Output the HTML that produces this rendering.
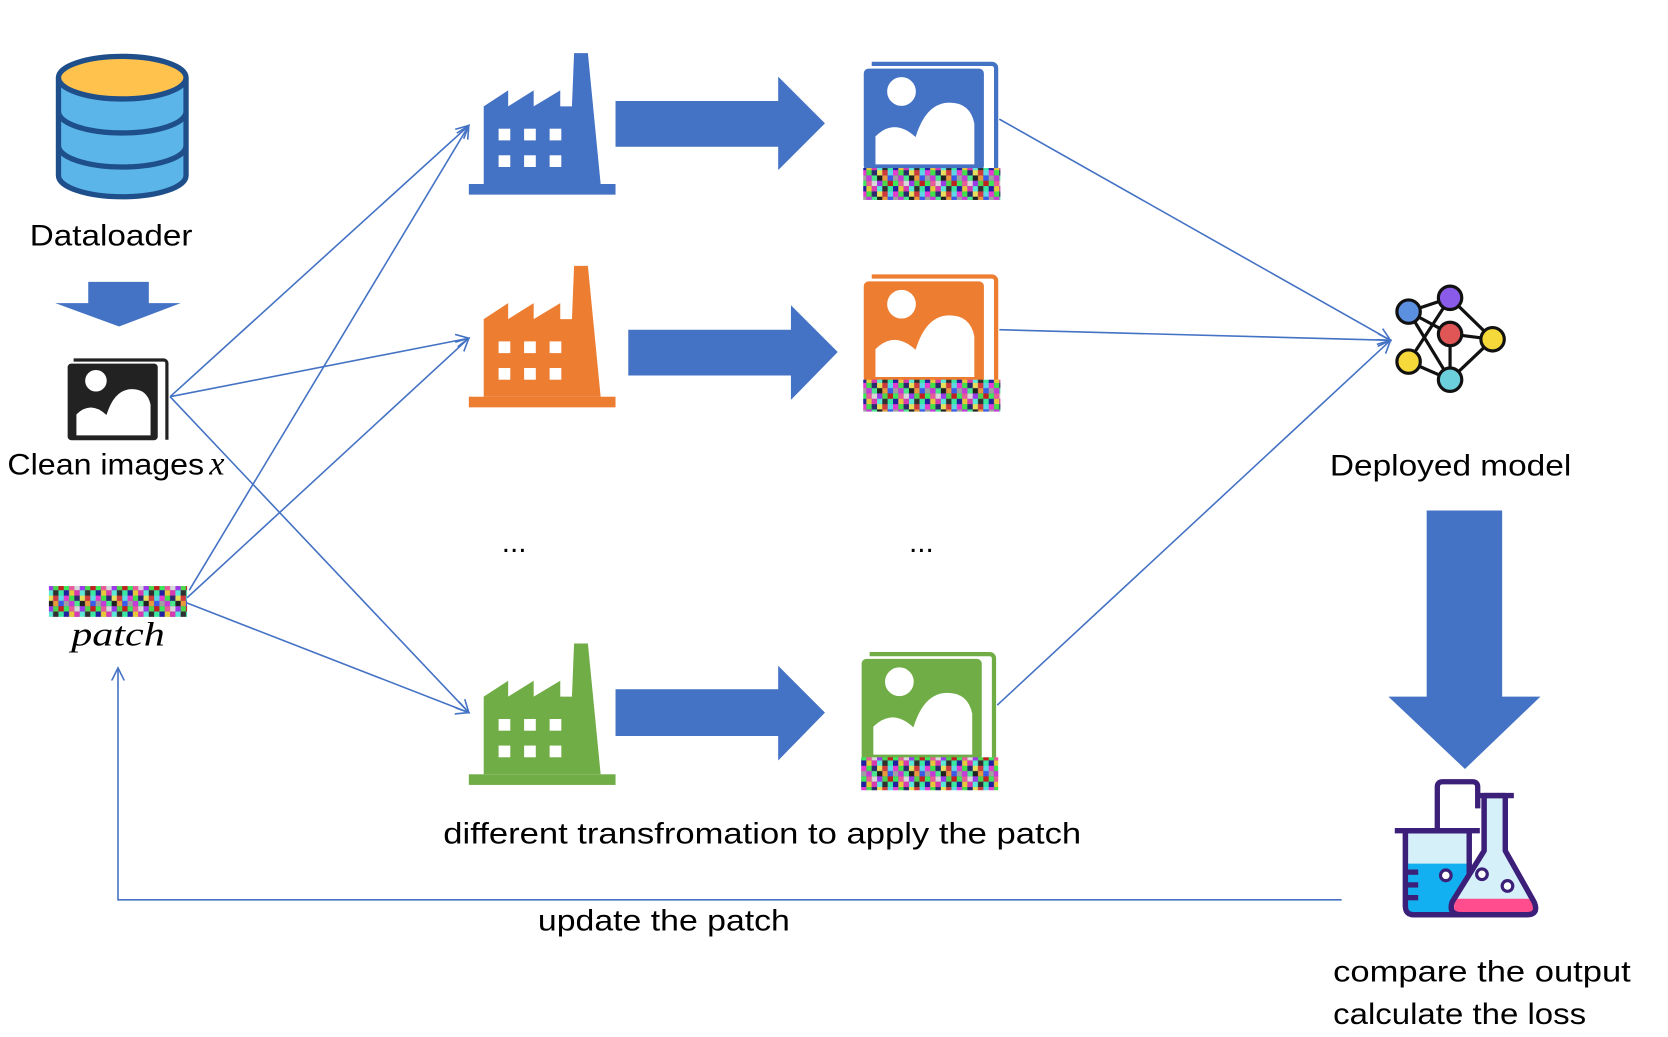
<!DOCTYPE html>
<html><head><meta charset="utf-8"><style>html,body{margin:0;padding:0;background:#fff}svg{display:block}</style></head><body>
<svg width="1668" height="1037" viewBox="0 0 1569 975" preserveAspectRatio="none" xmlns="http://www.w3.org/2000/svg">
<defs>
<pattern id="mz" width="30" height="20" patternUnits="userSpaceOnUse">
<rect width="30" height="20" fill="#7a4fa0"/>
<rect x="0" y="0" width="5" height="5" fill="#e63bd0"/><rect x="5" y="0" width="5" height="5" fill="#3fe04a"/><rect x="10" y="0" width="5" height="5" fill="#2a2a6e"/><rect x="15" y="0" width="5" height="5" fill="#e8e05a"/><rect x="20" y="0" width="5" height="5" fill="#d03a3a"/><rect x="25" y="0" width="5" height="5" fill="#5ad8e8"/>
<rect x="0" y="5" width="5" height="5" fill="#a0a0a0"/><rect x="5" y="5" width="5" height="5" fill="#c83ad8"/><rect x="10" y="5" width="5" height="5" fill="#49e88a"/><rect x="15" y="5" width="5" height="5" fill="#202020"/><rect x="20" y="5" width="5" height="5" fill="#e89a3a"/><rect x="25" y="5" width="5" height="5" fill="#3a5ae8"/>
<rect x="0" y="10" width="5" height="5" fill="#3ae85a"/><rect x="5" y="10" width="5" height="5" fill="#e85a9a"/><rect x="10" y="10" width="5" height="5" fill="#d8d8d8"/><rect x="15" y="10" width="5" height="5" fill="#9a3ae8"/><rect x="20" y="10" width="5" height="5" fill="#4ad84a"/><rect x="25" y="10" width="5" height="5" fill="#c02020"/>
<rect x="0" y="15" width="5" height="5" fill="#2020a0"/><rect x="5" y="15" width="5" height="5" fill="#e8c83a"/><rect x="10" y="15" width="5" height="5" fill="#d83ab0"/><rect x="15" y="15" width="5" height="5" fill="#5ae8d8"/><rect x="20" y="15" width="5" height="5" fill="#303030"/><rect x="25" y="15" width="5" height="5" fill="#3ae8a0"/>
</pattern>
<marker id="ah" markerWidth="14" markerHeight="14" refX="12" refY="7" orient="auto" markerUnits="userSpaceOnUse"><path d="M0,1 L12,7 L0,13" fill="none" stroke="#4472c4" stroke-width="1.5"/></marker>
<g id="fac"><rect x="0" y="125" width="138" height="10"/><polygon points="14,125 14,52 37,37 37,52 61,37 61,52 86,37 86,52 97,52 99,2 112,2 124,125"/><g fill="#fff"><rect x="28" y="73" width="11" height="11"/><rect x="52" y="73" width="11" height="11"/><rect x="76" y="73" width="11" height="11"/><rect x="28" y="98" width="11" height="11"/><rect x="52" y="98" width="11" height="11"/><rect x="76" y="98" width="11" height="11"/></g></g>
<g id="img"><rect x="0" y="7" width="112" height="95" rx="4"/><path d="M7,2 H120 a4,4 0 0 1 4,4 V102" fill="none" stroke-width="4" stroke="inherit"/><circle cx="35" cy="28" r="14" fill="#fff"/><path d="M10,97 V70 Q28,52 48,70 Q58,38 80,38 Q100,38 104,58 V97 Z" fill="#fff"/></g>
</defs>
<g stroke="#1f4f8a" stroke-width="5" fill="#5bb5e8">
<path d="M55,73 V165 A60,20 0 0 0 175,165 V73"/>
<path d="M55,105 A60,20 0 0 0 175,105" fill="none"/>
<path d="M55,137 A60,20 0 0 0 175,137" fill="none"/>
<ellipse cx="115" cy="73" rx="60" ry="20" fill="#ffc34d"/>
</g>
<g font-family="Liberation Sans, sans-serif" font-size="28" fill="#000">
<text x="28" y="231" textLength="153" lengthAdjust="spacingAndGlyphs">Dataloader</text>
<text x="7" y="446" textLength="185" lengthAdjust="spacingAndGlyphs">Clean images</text>
<text x="1251" y="447" textLength="227" lengthAdjust="spacingAndGlyphs">Deployed model</text>
<text x="417" y="793" textLength="600" lengthAdjust="spacingAndGlyphs">different transfromation to apply the patch</text>
<text x="506" y="875" textLength="237" lengthAdjust="spacingAndGlyphs">update the patch</text>
<text x="1254" y="923" textLength="280" lengthAdjust="spacingAndGlyphs">compare the output</text>
<text x="1254" y="963" textLength="238" lengthAdjust="spacingAndGlyphs">calculate the loss</text>
<text x="472" y="519">...</text><text x="855" y="519">...</text>
</g>
<g font-family="Liberation Serif, serif" font-style="italic" font-size="32"><text x="197" y="446">x</text><text x="67" y="607" textLength="88" lengthAdjust="spacingAndGlyphs">patch</text></g>
<polygon points="83,265 140,265 140,285 170,285 112,307 52,285 83,285" fill="#4472c4"/>
<g transform="translate(64,337) scale(0.75)" fill="#222" stroke="#222"><use href="#img"/></g>
<rect x="46" y="551" width="130" height="29" fill="url(#mz)"/>
<use href="#fac" x="441" y="48" fill="#4472c4"/>
<use href="#fac" x="441" y="248" fill="#ed7d31"/>
<use href="#fac" x="441" y="603" fill="#70ad47"/>
<g fill="#4472c4">
<polygon points="579,95 732,95 732,72 776,116 732,160 732,138 579,138"/>
<polygon points="591,310 744,310 744,287 788,331 744,376 744,353 591,353"/>
<polygon points="579,648 732,648 732,626 776,670 732,715 732,692 579,692"/>
<polygon points="1342,480 1413,480 1413,655 1449,655 1378,723 1306,655 1342,655"/>
</g>
<g transform="translate(813,58)" fill="#4472c4" stroke="#4472c4"><use href="#img"/></g>
<rect x="812" y="158" width="129" height="30" fill="url(#mz)"/>
<g transform="translate(813,258)" fill="#ed7d31" stroke="#ed7d31"><use href="#img"/></g>
<rect x="812" y="357" width="129" height="30" fill="url(#mz)"/>
<g transform="translate(811,613)" fill="#70ad47" stroke="#70ad47"><use href="#img"/></g>
<rect x="810" y="712" width="129" height="31" fill="url(#mz)"/>
<g stroke="#4472c4" stroke-width="1.5" fill="none" marker-end="url(#ah)">
<line x1="160" y1="373" x2="441" y2="118"/><line x1="160" y1="373" x2="441" y2="318"/><line x1="160" y1="373" x2="441" y2="670"/>
<line x1="178" y1="555" x2="441" y2="118"/><line x1="176" y1="562" x2="441" y2="318"/><line x1="176" y1="567" x2="441" y2="670"/>
<line x1="940" y1="112" x2="1308" y2="320"/><line x1="940" y1="310" x2="1308" y2="320"/><line x1="938" y1="663" x2="1308" y2="320"/>
<polyline points="1262,846 111,846 111,628"/>
</g>
<g stroke="#111" stroke-width="3">
<line x1="1325" y1="293" x2="1364" y2="280"/><line x1="1325" y1="293" x2="1364" y2="314"/><line x1="1325" y1="293" x2="1364" y2="357"/><line x1="1364" y1="280" x2="1325" y2="340"/><line x1="1364" y1="280" x2="1404" y2="319"/><line x1="1364" y1="314" x2="1404" y2="319"/><line x1="1364" y1="314" x2="1364" y2="357"/><line x1="1325" y1="340" x2="1364" y2="357"/><line x1="1404" y1="319" x2="1364" y2="357"/>
<circle cx="1325" cy="293" r="11" fill="#5b8fe0"/><circle cx="1364" cy="280" r="11" fill="#8a5be8"/><circle cx="1364" cy="314" r="11" fill="#e05555"/><circle cx="1404" cy="319" r="11" fill="#f5d83a"/><circle cx="1325" cy="340" r="11" fill="#f5d83a"/><circle cx="1364" cy="357" r="11" fill="#6cd0dc"/>
</g>
<g stroke="#3b1f78" stroke-width="5" stroke-linejoin="round">
<path d="M1322,781 H1382 V852 Q1382,860 1374,860 H1330 Q1322,860 1322,852 Z" fill="#d6f0fa"/>
<path d="M1323,812 H1381 V852 Q1381,859 1374,859 H1330 Q1323,859 1323,852 Z" fill="#12b0f0" stroke="none"/>
<path d="M1322,781 H1382 V852 Q1382,860 1374,860 H1330 Q1322,860 1322,852 Z" fill="none"/>
<line x1="1312" y1="781" x2="1392" y2="781"/>
<path d="M1352,781 V740 Q1352,735 1357,735 H1385 Q1390,735 1390,740 V760" fill="none"/>
<path d="M1396,748 V800 L1366,848 Q1362,860 1375,860 H1436 Q1448,860 1443,848 L1416,800 V748 Z" fill="#d6f0fa"/>
<path d="M1368,845 H1442 L1444,852 Q1444,858 1436,858 H1373 Q1366,858 1368,852 Z" fill="#ff4d8d" stroke="none"/>
<path d="M1396,748 V800 L1366,848 Q1362,860 1375,860 H1436 Q1448,860 1443,848 L1416,800 V748" fill="none"/>
<line x1="1388" y1="748" x2="1424" y2="748"/>
<circle cx="1360" cy="823" r="5" fill="#fff" stroke-width="3"/><circle cx="1394" cy="822" r="5" fill="#fff" stroke-width="3"/><circle cx="1418" cy="833" r="5" fill="#fff" stroke-width="3"/>
<line x1="1322" y1="820" x2="1334" y2="820"/><line x1="1322" y1="832" x2="1334" y2="832"/><line x1="1322" y1="844" x2="1334" y2="844"/>
</g>
</svg>
</body></html>
